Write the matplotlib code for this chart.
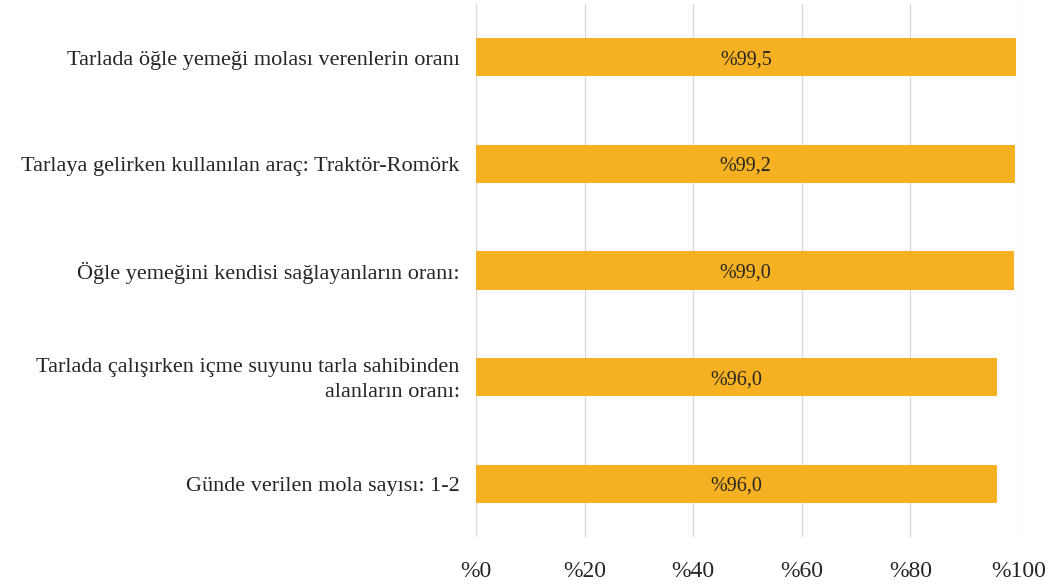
import matplotlib
matplotlib.use("Agg")
import matplotlib.pyplot as plt
from matplotlib.transforms import offset_copy

categories = [
    "Tarlada öğle yemeği molası verenlerin oranı",
    "Tarlaya gelirken kullanılan araç: Traktör-Romörk",
    "Öğle yemeğini kendisi sağlayanların oranı:",
    "Tarlada çalışırken içme suyunu tarla sahibinden\nalanların oranı:",
    "Günde verilen mola sayısı: 1-2",
]
values = [99.5, 99.2, 99.0, 96.0, 96.0]
value_labels = ["%99,5", "%99,2", "%99,0", "%96,0", "%96,0"]
xticks = [0, 20, 40, 60, 80, 100]
xtick_labels = ["%0", "%20", "%40", "%60", "%80", "%100"]

plt.rcParams['font.family'] = ['Liberation Serif', 'DejaVu Serif']

fig = plt.figure(figsize=(10.61, 5.88), dpi=100)
ax = fig.add_axes([476 / 1061, 1 - 537 / 588, (1019 - 476) / 1061, 533 / 588])

ypos = list(range(len(categories)))[::-1]
bars = ax.barh(ypos, values, height=0.36, color="#F5B122", zorder=3)
for b, lab in zip(bars, value_labels):
    ax.text(b.get_width() / 2, b.get_y() + b.get_height() / 2, lab,
            ha="center", va="center_baseline", fontsize=14.5, color="#262626", zorder=4)

# category labels drawn as text so the two-line label gets proper spacing
lab_tr = offset_copy(ax.get_yaxis_transform(), fig=fig, x=0, y=-2, units="points")
for y, cat in zip(ypos, categories):
    ax.text(-0.03, y, cat, transform=lab_tr,
            ha="right", va="center", fontsize=16, color="#262626",
            multialignment="right", linespacing=1.45)

ax.set_xlim(0, 100)
ax.set_ylim(-0.5, 4.5)
ax.set_xticks(xticks)
ax.set_xticklabels(xtick_labels, fontsize=17, color="#262626")
ax.set_yticks([])
ax.tick_params(axis="both", length=0)
ax.tick_params(axis="x", pad=17)
ax.grid(axis="x", color="#D9D9D9", linewidth=1, zorder=0)
ax.set_axisbelow(True)
for s in ax.spines.values():
    s.set_visible(False)

fig.savefig("out.png", dpi=100)
